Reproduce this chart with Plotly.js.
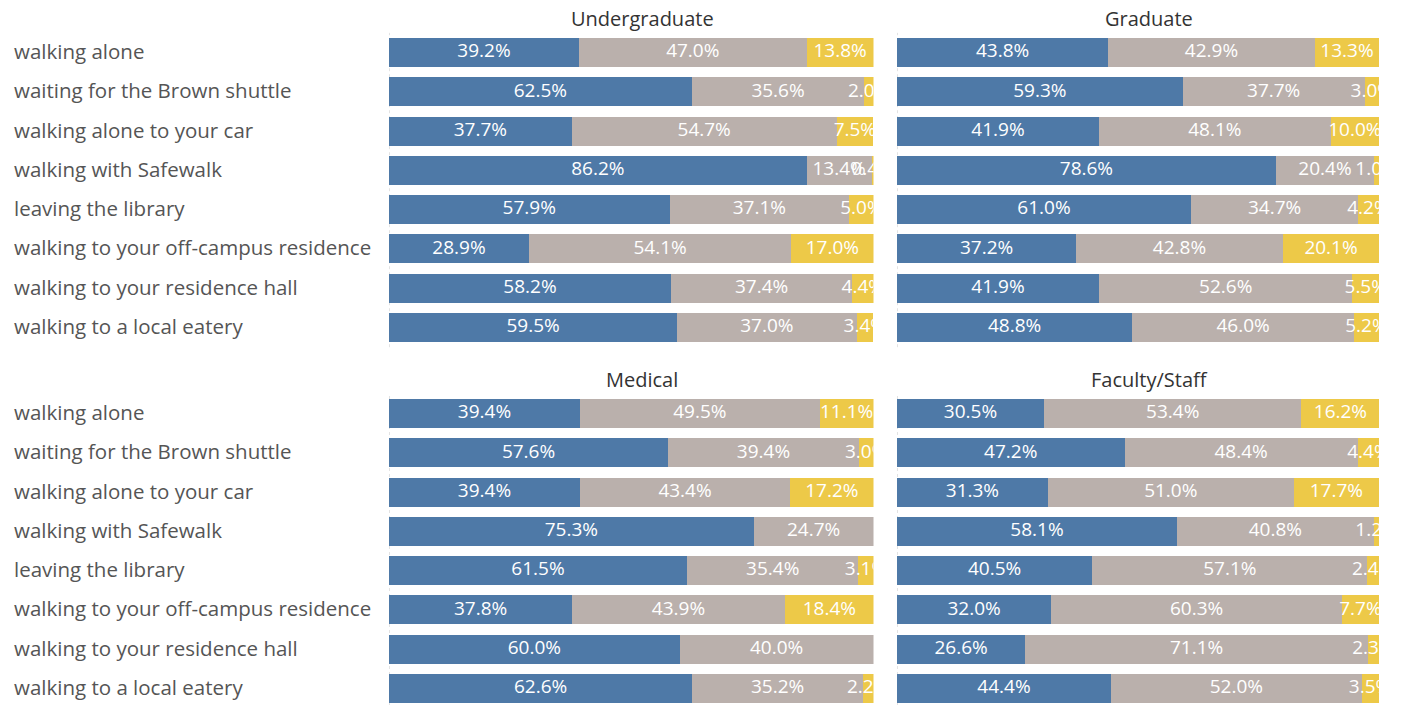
<!DOCTYPE html>
<html>
<head>
<meta charset="utf-8">
<script src="https://cdn.plot.ly/plotly-3.0.1.min.js"></script>
<style>html,body{margin:0;padding:0;background:#fff;}#chart{width:1402px;height:705px;}</style>
</head>
<body>
<div id="chart"></div>
<script>
const categories = ["walking alone","waiting for the Brown shuttle","walking alone to your car","walking with Safewalk","leaving the library","walking to your off-campus residence","walking to your residence hall","walking to a local eatery"];
const panelTitles = ["Undergraduate","Graduate","Medical","Faculty/Staff"];

const ugBlue   = [39.2, 62.5, 37.7, 86.2, 57.9, 28.9, 58.2, 59.5];
const ugGray   = [47.0, 35.6, 54.7, 13.4, 37.1, 54.1, 37.4, 37.0];
const ugYellow = [13.8, 2.0, 7.5, 0.4, 5.0, 17.0, 4.4, 3.4];

const grBlue   = [43.8, 59.3, 41.9, 78.6, 61.0, 37.2, 41.9, 48.8];
const grGray   = [42.9, 37.7, 48.1, 20.4, 34.7, 42.8, 52.6, 46.0];
const grYellow = [13.3, 3.0, 10.0, 1.0, 4.2, 20.1, 5.5, 5.2];

const mdBlue   = [39.4, 57.6, 39.4, 75.3, 61.5, 37.8, 60.0, 62.6];
const mdGray   = [49.5, 39.4, 43.4, 24.7, 35.4, 43.9, 40.0, 35.2];
const mdYellow = [11.1, 3.0, 17.2, null, 3.1, 18.4, null, 2.2];

const fsBlue   = [30.5, 47.2, 31.3, 58.1, 40.5, 32.0, 26.6, 44.4];
const fsGray   = [53.4, 48.4, 51.0, 40.8, 57.1, 60.3, 71.1, 52.0];
const fsYellow = [16.2, 4.4, 17.7, 1.2, 2.4, 7.7, 2.3, 3.5];

const colors = ["#4e79a7", "#bab0ac", "#edc948"];
const FONT = "Open Sans";

const panels = [
  {series: [ugBlue, ugGray, ugYellow], xa: "x",  ya: "y"},
  {series: [grBlue, grGray, grYellow], xa: "x2", ya: "y2"},
  {series: [mdBlue, mdGray, mdYellow], xa: "x3", ya: "y3"},
  {series: [fsBlue, fsGray, fsYellow], xa: "x4", ya: "y4"}
];

const traces = [];
panels.forEach(p => {
  const base = categories.map(() => 0);
  p.series.forEach((vals, si) => {
    traces.push({
      type: "bar", orientation: "h", x: vals, y: categories,
      xaxis: p.xa, yaxis: p.ya, marker: {color: colors[si], line: {width: 0}},
      hoverinfo: "skip", showlegend: false
    });
    const tx = [], ty = [], tt = [];
    vals.forEach((v, i) => {
      if (v === null || v === undefined) return;
      tx.push(base[i] + v / 2); ty.push(categories[i]); tt.push(v.toFixed(1) + "%");
      base[i] += v;
    });
    traces.push({
      type: "scatter", mode: "text", x: tx, y: ty, text: tt,
      xaxis: p.xa, yaxis: p.ya, cliponaxis: true,
      textfont: {family: FONT, size: 19, color: "#ffffff"},
      textposition: "middle center", hoverinfo: "skip", showlegend: false
    });
  });
});

const W = 1402, H = 705;
const xL = [389 / W, 873.5 / W], xR = [897 / W, 1379 / W];
const yTop = [1 - 347.2 / H, 1 - 32.86 / H], yBot = [0, 1 - 393.9 / H];
const xBase = {range: [0, 100], showgrid: false, zeroline: false, showticklabels: false, ticks: "", showline: false, fixedrange: true};
const yBase = {type: "category", showgrid: false, zeroline: false, showticklabels: false, ticks: "", showline: false, fixedrange: true};

const layout = {
  width: W, height: H, margin: {l: 0, r: 0, t: 0, b: 0},
  paper_bgcolor: "#ffffff", plot_bgcolor: "#ffffff",
  barmode: "stack", bargap: 0.262, showlegend: false,
  xaxis:  Object.assign({}, xBase, {domain: xL, anchor: "y"}),
  xaxis2: Object.assign({}, xBase, {domain: xR, anchor: "y2"}),
  xaxis3: Object.assign({}, xBase, {domain: xL, anchor: "y3"}),
  xaxis4: Object.assign({}, xBase, {domain: xR, anchor: "y4"}),
  yaxis:  Object.assign({}, yBase, {domain: yTop, anchor: "x",  range: [7.5, -0.5]}),
  yaxis2: Object.assign({}, yBase, {domain: yTop, anchor: "x2", range: [7.5, -0.5]}),
  yaxis3: Object.assign({}, yBase, {domain: yBot, anchor: "x3", range: [7.42, -0.5]}),
  yaxis4: Object.assign({}, yBase, {domain: yBot, anchor: "x4", range: [7.42, -0.5]}),
  shapes: [], annotations: []
};

["x", "x2", "x3", "x4"].forEach((xa, i) => {
  const ya = ["y", "y2", "y3", "y4"][i];
  layout.shapes.push({type: "line", xref: xa, yref: ya + " domain", x0: 0, x1: 0, y0: 0, y1: 1,
    line: {color: "#c8c8c8", width: 1, dash: "dot"}, layer: "below"});
  layout.annotations.push({text: panelTitles[i], xref: xa + " domain", x: 0.5, xshift: 11, yref: "paper",
    y: i < 2 ? 1 - 18 / H : 1 - 379 / H, xanchor: "center", yanchor: "middle", showarrow: false,
    font: {family: FONT, size: 20, color: "#333333"}});
});

["y", "y3"].forEach(ya => {
  categories.forEach(c => {
    layout.annotations.push({text: c, xref: "paper", x: 12 / W, xanchor: "left", yref: ya, y: c,
      yanchor: "middle", yshift: 1.5, showarrow: false, font: {family: FONT, size: 20.5, color: "#555555"}});
  });
});

Plotly.newPlot("chart", traces, layout, {displayModeBar: false, staticPlot: true});
</script>
</body>
</html>
